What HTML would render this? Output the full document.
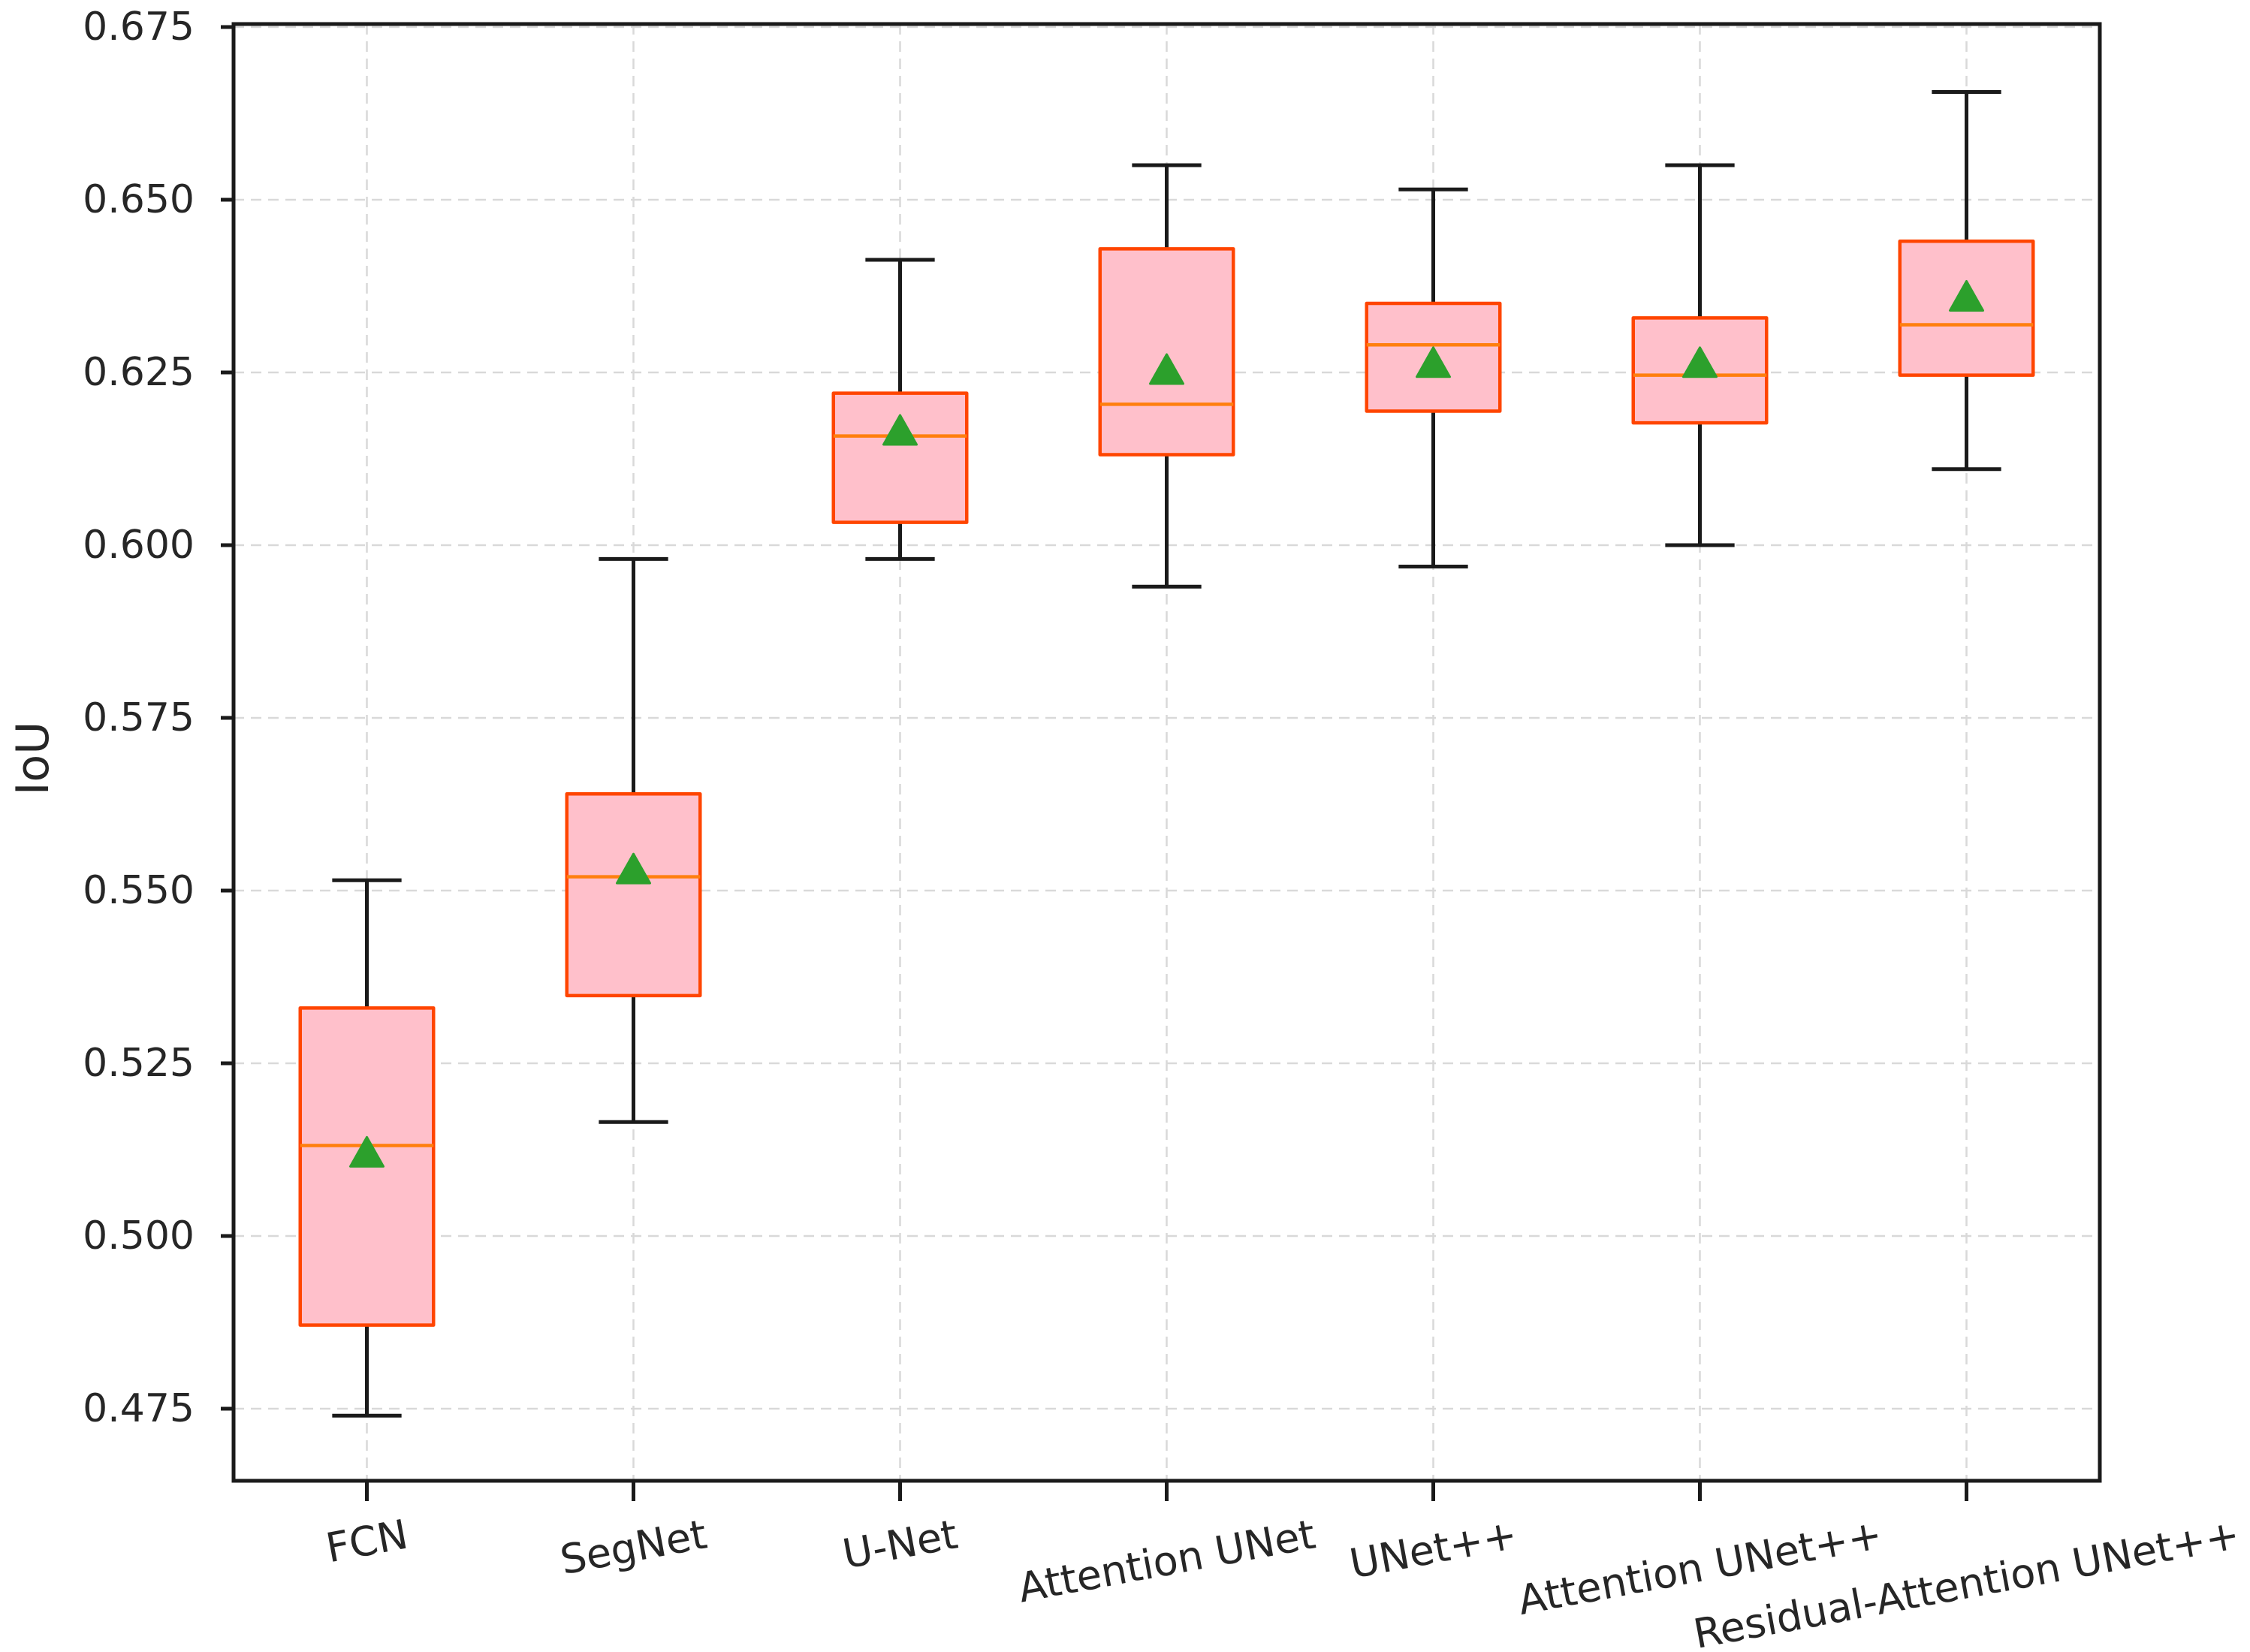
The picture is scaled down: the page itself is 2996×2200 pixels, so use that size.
<!DOCTYPE html>
<html><head><meta charset="utf-8"><style>
html,body{margin:0;padding:0;background:#fff}
svg{display:block}
text{font-family:"DejaVu Sans","Liberation Sans",sans-serif;fill:#262626}
</style></head><body>
<svg id="chart" width="2996" height="2200" viewBox="0 0 2996 2200" xmlns="http://www.w3.org/2000/svg">
<rect x="0" y="0" width="2996" height="2200" fill="#fff"/>
<g id="grid"></g>
<g id="boxes"></g>
<g id="axes"></g>
</svg>
<script>
const categories = ["FCN","SegNet","U-Net","Attention UNet","UNet++","Attention UNet++","Residual-Attention UNet++"];
const whiskerLow  = [0.474, 0.5165, 0.598, 0.594, 0.5969, 0.600, 0.611];
const q1          = [0.4871, 0.5348, 0.6033, 0.6131, 0.6194, 0.6177, 0.6246];
const medians     = [0.5131, 0.552, 0.6158, 0.6204, 0.629, 0.6246, 0.6319];
const q3          = [0.533, 0.564, 0.622, 0.6429, 0.635, 0.6329, 0.644];
const whiskerHigh = [0.5515, 0.598, 0.6413, 0.655, 0.6515, 0.655, 0.6656];
const means       = [0.5117, 0.5527, 0.6162, 0.625, 0.626, 0.626, 0.6356];
const yTicks = [0.475, 0.500, 0.525, 0.550, 0.575, 0.600, 0.625, 0.650, 0.675];
const yTickLabels = ["0.475","0.500","0.525","0.550","0.575","0.600","0.625","0.650","0.675"];

const NS = "http://www.w3.org/2000/svg";
const L = 311, R = 2796, T = 32, B = 1972;
const yA = 0.675, yAp = 36, yB = 0.475, yBp = 1876;
const xMin = -0.5, xMax = 6.5;
function xs(i){ return L + (i - xMin) / (xMax - xMin) * (R - L); }
function ys(v){ return yAp + (yA - v) / (yA - yB) * (yBp - yAp); }
function mk(tag, attrs, parent){
  const e = document.createElementNS(NS, tag);
  for (const k in attrs) e.setAttribute(k, attrs[k]);
  parent.appendChild(e);
  return e;
}
const grid = document.getElementById('grid');
const boxes = document.getElementById('boxes');
const axes = document.getElementById('axes');

yTicks.forEach((t, i) => {
  const g = mk('line', {x1:L, x2:R, y1:ys(t), y2:ys(t), stroke:'#d9d9d9', 'stroke-width':2.5, 'stroke-dasharray':'14 9'}, grid);
  
  
});
categories.forEach((c, i) => {
  const g = mk('line', {x1:xs(i), x2:xs(i), y1:T, y2:B, stroke:'#d9d9d9', 'stroke-width':2.5, 'stroke-dasharray':'14 9'}, grid);
  
  
});

const bw = 0.25, cw = 0.13;
categories.forEach((c, i) => {
  const grp = mk('g', {}, boxes);
  
  
  const x = xs(i);
  const wl = mk('line', {x1:x, x2:x, y1:ys(whiskerLow[i]), y2:ys(q1[i]), stroke:'#1a1a1a', 'stroke-width':5}, grp);
  
  
  const wh = mk('line', {x1:x, x2:x, y1:ys(whiskerHigh[i]), y2:ys(q3[i]), stroke:'#1a1a1a', 'stroke-width':5}, grp);
  
  
  const cl = mk('line', {x1:xs(i - cw), x2:xs(i + cw), y1:ys(whiskerLow[i]), y2:ys(whiskerLow[i]), stroke:'#1a1a1a', 'stroke-width':5}, grp);
  
  
  const ch = mk('line', {x1:xs(i - cw), x2:xs(i + cw), y1:ys(whiskerHigh[i]), y2:ys(whiskerHigh[i]), stroke:'#1a1a1a', 'stroke-width':5}, grp);
  
  
  const bx = mk('rect', {x:xs(i - bw), y:ys(q3[i]), width:xs(i + bw) - xs(i - bw), height:ys(q1[i]) - ys(q3[i]), fill:'#ffc0cb', stroke:'#ff4500', 'stroke-width':4.5, 'stroke-linejoin':'round'}, grp);
  
  
  const md = mk('line', {x1:xs(i - bw), x2:xs(i + bw), y1:ys(medians[i]), y2:ys(medians[i]), stroke:'#ff7f0e', 'stroke-width':4.5}, grp);
  
  
  const my = ys(means[i]);
  const tri = mk('polygon', {points:`${x},${my-24} ${x-22},${my+15} ${x+22},${my+15}`, fill:'#2ca02c', stroke:'#2ca02c', 'stroke-width':3, 'stroke-linejoin':'round'}, grp);
  
  
});

const fr = mk('rect', {x:L, y:T, width:R - L, height:B - T, fill:'none', stroke:'#1a1a1a', 'stroke-width':5}, axes);



yTicks.forEach((t, i) => {
  const tk = mk('line', {x1:L - 17, x2:L, y1:ys(t), y2:ys(t), stroke:'#1a1a1a', 'stroke-width':5}, axes);
  
  
  const lb = mk('text', {x:L - 52, y:ys(t), 'font-size':52, 'text-anchor':'end', 'dominant-baseline':'central'}, axes);
  lb.textContent = yTickLabels[i];
  
  
});

const ang = 10.5, rad = ang * Math.PI / 180, fs = 54;
categories.forEach((c, i) => {
  const x = xs(i);
  const tk = mk('line', {x1:x, x2:x, y1:B, y2:B + 27, stroke:'#1a1a1a', 'stroke-width':5}, axes);
  
  
  const lb = mk('text', {x:0, y:0, 'font-size':fs, 'text-anchor':'middle', 'dominant-baseline':'central'}, axes);
  lb.textContent = c;
  
  
  const w = lb.getComputedTextLength();
  const h = fs * 1.15;
  const bh = w * Math.sin(rad) + h * Math.cos(rad);
  const cy = B + 40 + bh / 2;
  lb.setAttribute('transform', `translate(${x},${cy}) rotate(${-ang})`);
});

const yl = mk('text', {x:0, y:0, 'font-size':60, 'text-anchor':'middle', 'dominant-baseline':'central', transform:'translate(44,1010) rotate(-90)'}, axes);
yl.textContent = 'IoU';


</script>
</body></html>
